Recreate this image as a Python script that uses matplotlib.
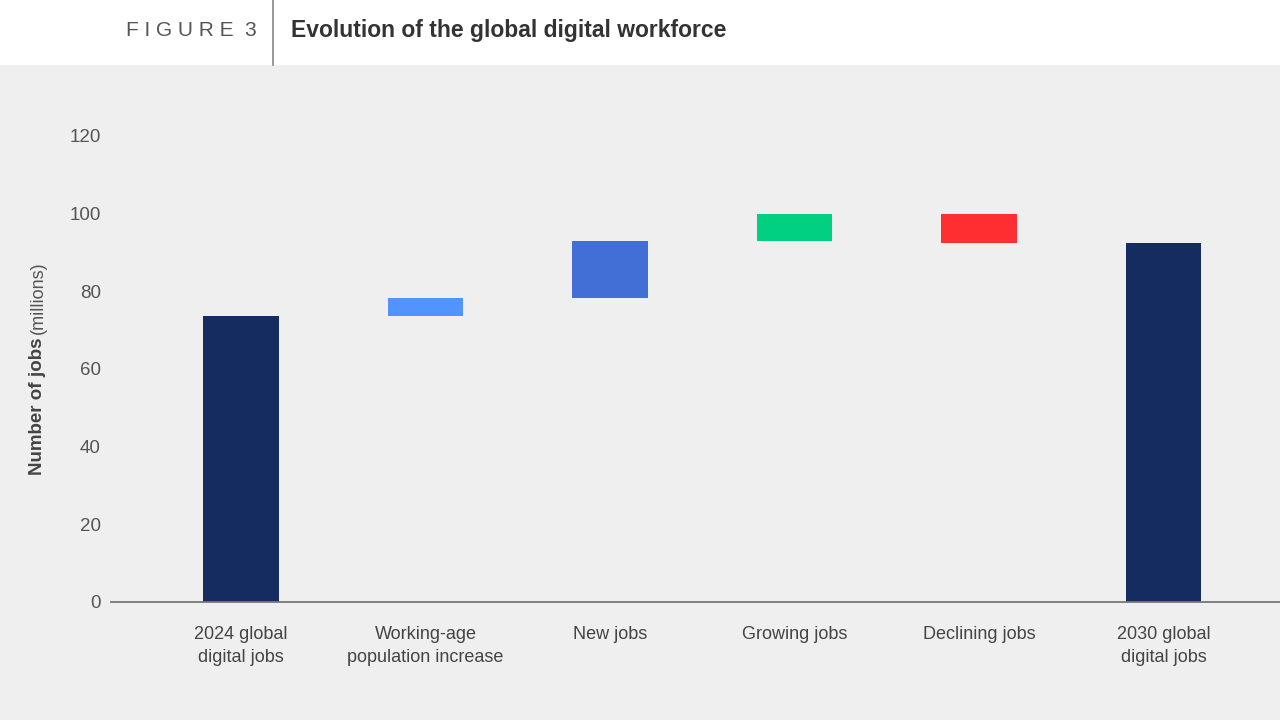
import matplotlib.pyplot as plt
from matplotlib.lines import Line2D
from matplotlib.patches import Rectangle

plt.rcParams['font.family'] = ['Liberation Sans', 'DejaVu Sans']

# données du graphique en cascade (millions d'emplois)
categories = ["2024 global\ndigital jobs", "Working-age\npopulation increase", "New jobs",
              "Growing jobs", "Declining jobs", "2030 global\ndigital jobs"]
start_total = 73.7
changes = [4.5, 14.8, 7.0, -7.7]
end_total = 92.3
y_ticks = [0, 20, 40, 60, 80, 100, 120]

colors = ["#152c61", "#5294ff", "#416fd6", "#00d07f", "#ff2e31", "#152c61"]
bg = "#efefef"

# bases et hauteurs des barres
bottoms = [0]
heights = [start_total]
level = start_total
for c in changes:
    if c >= 0:
        bottoms.append(level)
        heights.append(c)
    else:
        bottoms.append(level + c)
        heights.append(-c)
    level += c
bottoms.append(0)
heights.append(end_total)

fig = plt.figure(figsize=(12.8, 7.2), dpi=100)
fig.patch.set_facecolor("white")
fig.patches.append(Rectangle((0, 0), 1, 655 / 720, transform=fig.transFigure,
                             facecolor=bg, edgecolor="none", zorder=-5))

# en-tête
fig.text(257 / 1280, 1 - 30 / 720, "F I G U R E  3", ha="right", va="center",
         fontsize=15, color="#555555")
fig.lines.append(Line2D([273 / 1280, 273 / 1280], [1 - 65 / 720, 1], transform=fig.transFigure,
                        color="#888888", lw=1.2))
fig.text(291 / 1280, 1 - 30 / 720, "Evolution of the global digital workforce", ha="left",
         va="center", fontsize=16.5, color="#333333", fontweight="bold")

ax = fig.add_axes([110.7 / 1280, 118 / 720, 1 - 110.7 / 1280, (602 - 97) / 720])
ax.set_facecolor(bg)
x = list(range(len(categories)))
ax.bar(x, heights, bottom=bottoms, width=0.41, color=colors, zorder=2)

ax.set_xlim(-0.706, 5.631)
ax.set_ylim(0, 130)
ax.set_yticks(y_ticks)
ax.set_yticklabels([str(t) for t in y_ticks], fontsize=13.5, color="#555555")
ax.set_xticks(x)
ax.set_xticklabels(categories, fontsize=13, color="#444444", linespacing=1.5)
ax.tick_params(axis="y", length=0, pad=7)
ax.tick_params(axis="x", length=0, pad=17)
for s in ["top", "right", "left"]:
    ax.spines[s].set_visible(False)
ax.spines["bottom"].set_color("#777777")
ax.spines["bottom"].set_linewidth(1.3)

# titre de l'axe y (gras + léger)
fig.text(38 / 1280, 1 - 406 / 720, "Number of jobs", rotation=90, ha="center", va="center",
         fontsize=13.5, color="#444444", fontweight="bold")
fig.text(38 / 1280, 1 - 298 / 720, "(millions)", rotation=90, ha="center", va="center",
         fontsize=13, color="#555555")

fig.savefig("out.png", dpi=100, facecolor=fig.get_facecolor())
